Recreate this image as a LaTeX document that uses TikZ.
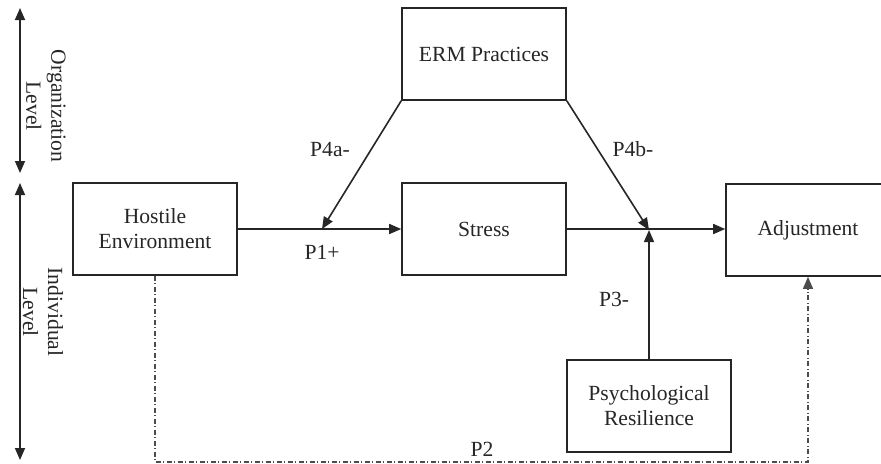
\documentclass[tikz,border=0pt]{standalone}
\usepackage{fontspec}
\setmainfont{Liberation Serif}
\usetikzlibrary{arrows.meta}

\begin{document}
\begin{tikzpicture}[x=0.5pt,y=-0.5pt,line width=0.8pt,
		every node/.style={font=\fontsize{10.8}{12.5}\selectfont, text=black!85},
		box/.style={draw=black!85, minimum width=82pt, minimum height=46pt, align=center},
		link/.style={draw=black!85, -{Triangle[length=6pt,width=5pt]}},
		levelarrow/.style={draw=black!85, {Triangle[length=6pt,width=5pt]}-{Triangle[length=6pt,width=5pt]}},
		p2line/.style={draw=black!70, line width=0.6pt, dash pattern=on 2.5pt off 1.2pt on 0.6pt off 1.2pt, -{Triangle[length=6pt,width=5pt]}}]
	\clip (0,0) rectangle (881,463);
	% boxes
	\node[box] (erm)     at (484,54)  {ERM Practices};
	\node[box] (hostile) at (155,229) {Hostile\\Environment};
	\node[box] (stress)  at (484,229) {Stress};
	\node[box] (adjust)  at (808,230) {Adjustment};
	\node[box] (resil)   at (649,406) {Psychological\\Resilience};
	\coordinate (modA) at (322,229);
	\coordinate (modB) at (649,230);
	\coordinate (low)  at (480,462);
	% levels
	\coordinate (orgtop) at (20,8);
	\coordinate (orgbot) at (20,173);
	\coordinate (indtop) at (20,183);
	\coordinate (indbot) at (20,460);
	\draw[levelarrow] (orgtop) -- (orgbot);
	\draw[levelarrow] (indtop) -- (indbot);
	\node[rotate=-90, align=center] (orglab) at (46,106) {Organization\\Level};
	\node[rotate=-90, align=center] (indlab) at (43,312) {Individual\\Level};
	% paths
	\draw[link] (hostile.east) -- (stress.west);
	\draw[link] (stress.east) -- (stress.east -| adjust.west);
	\draw[link] (erm.south west) -- (modA);
	\draw[link] (erm.south east) -- (modB);
	\draw[link] (resil.north) -- (modB);
	\draw[p2line] (hostile.south) |- (low) -| (adjust.south);
	% labels
	\node (p1)  at (322,252) {P1+};
	\node (p4a) at (330,149) {P4a-};
	\node (p4b) at (633,149) {P4b-};
	\node (p3)  at (614,299) {P3-};
	\node (p2)  at (482,449) {P2};
\end{tikzpicture}
\end{document}
